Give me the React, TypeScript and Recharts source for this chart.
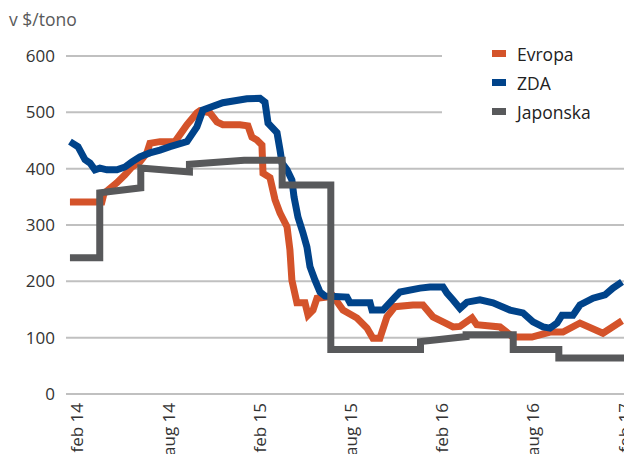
import React from "react";
import { LineChart, Line, XAxis, YAxis, CartesianGrid, Legend } from "recharts";

// months counted from feb 2014 (0 = feb 14)
const tickMonths = [0, 6, 12, 18, 24, 30, 36];
const tickLabels = ["feb 14", "aug 14", "feb 15", "aug 15", "feb 16", "aug 16", "feb 17"];
const yTicks = [0, 100, 200, 300, 400, 500, 600];

const evropa: [number, number][] = [
  [-0.46, 341], [1.64, 341], [1.78, 356], [2.63, 375], [3.16, 389], [3.62, 403],
  [4.14, 412], [4.6, 428], [4.8, 445], [5.46, 448], [6.45, 448], [7.24, 478],
  [7.89, 499], [8.09, 503], [8.75, 499], [9.21, 483], [9.6, 478], [10.72, 478],
  [11.25, 476], [11.51, 456], [11.84, 451], [12.17, 442], [12.24, 392], [12.7, 384],
  [13.03, 345], [13.36, 321], [13.82, 297], [14.01, 256], [14.14, 202], [14.47, 162],
  [15.0, 162], [15.2, 140], [15.53, 149], [15.79, 170], [16.45, 172], [16.84, 174],
  [17.5, 149], [18.42, 135], [19.08, 117], [19.47, 99], [19.93, 99], [20.39, 137],
  [20.92, 155], [22.1, 158], [22.76, 158], [23.42, 137], [24.08, 128], [24.74, 119],
  [25.2, 120], [25.99, 135], [26.3, 123], [27.83, 119], [28.68, 101], [29.93, 101],
  [31.12, 110], [31.97, 110], [33.09, 126], [34.6, 108], [35.86, 130],
];

const zda: [number, number][] = [
  [-0.46, 448], [0.07, 439], [0.53, 416], [0.86, 410], [1.18, 398], [1.51, 401],
  [1.97, 398], [2.63, 398], [3.16, 403], [3.62, 412], [4.14, 421], [4.8, 428],
  [5.46, 433], [6.12, 439], [7.24, 448], [7.89, 474], [8.29, 504], [9.6, 517],
  [11.18, 524], [12.04, 525], [12.37, 518], [12.57, 481], [13.16, 464], [13.36, 433],
  [13.49, 410], [13.82, 398], [14.14, 380], [14.28, 350], [14.54, 314], [14.87, 286],
  [15.13, 261], [15.33, 226], [15.66, 202], [15.99, 181], [16.32, 174], [17.76, 172],
  [17.96, 162], [19.28, 162], [19.41, 149], [20.13, 149], [20.92, 172], [21.25, 181],
  [22.57, 188], [23.22, 190], [24.08, 190], [24.34, 179], [24.74, 167], [25.2, 152],
  [25.66, 163], [26.51, 167], [27.37, 162], [28.49, 149], [29.34, 144], [30.0, 128],
  [30.66, 119], [31.12, 117], [31.58, 126], [31.91, 140], [32.63, 140], [33.09, 158],
  [33.95, 170], [34.74, 176], [35.26, 188], [35.86, 199],
];

const japonska: [number, number][] = [
  [-0.46, 242], [1.5, 242], [1.5, 357], [4.2, 366], [4.2, 401], [7.4, 394],
  [7.4, 408], [11.0, 415], [13.5, 415], [13.5, 371], [16.7, 371], [16.7, 79],
  [22.6, 79], [22.6, 93], [25.6, 102], [25.6, 105], [28.7, 105], [28.7, 79],
  [31.7, 79], [31.7, 64], [36.2, 64],
];

const series = [
  { name: "Evropa", color: "#D4532A", points: evropa },
  { name: "ZDA", color: "#00438A", points: zda },
  { name: "Japonska", color: "#58595B", points: japonska },
];

const font = "'Open Sans', sans-serif";

const XTick = (props: any) => {
  const { x, y, payload } = props;
  const i = tickMonths.indexOf(payload.value);
  return (
    <g transform={`translate(${x},${y})`}>
      <text
        transform="rotate(-90)"
        textAnchor="end"
        dominantBaseline="central"
        fontSize={17}
        fontFamily={font}
        fill="#333"
      >
        {tickLabels[i]}
      </text>
    </g>
  );
};

const LegendBox = () => (
  <div style={{ background: "#fff", width: "100%", height: "100%", paddingTop: 5 }}>
    {series.map((s) => (
      <div
        key={s.name}
        style={{ display: "flex", alignItems: "center", height: 29, fontFamily: font, fontSize: 17.5, color: "#222" }}
      >
        <span style={{ display: "inline-block", width: 14, height: 7, background: s.color, marginLeft: 50, marginRight: 11 }} />
        {s.name}
      </div>
    ))}
  </div>
);

export default function App() {
  return (
    <div style={{ position: "absolute", left: 0, top: 0, width: 624, height: 454, overflow: "hidden", background: "#fff" }}>
      <div style={{ position: "absolute", left: 9, top: 7, fontFamily: font, fontSize: 17.5, color: "#595959" }}>
        v $/tono
      </div>
      <LineChart width={650} height={454} margin={{ top: 56, right: 10, left: 0, bottom: 0 }}>
        <CartesianGrid vertical={false} stroke="#C0C0C0" strokeWidth={2} />
        <XAxis
          type="number"
          dataKey="m"
          domain={[-0.72, 37.04]}
          ticks={tickMonths}
          tick={<XTick />}
          tickLine={false}
          axisLine={false}
          tickSize={0}
          tickMargin={9}
          height={60}
          allowDataOverflow
        />
        <YAxis
          type="number"
          domain={[0, 600]}
          ticks={yTicks}
          width={66}
          tickLine={false}
          axisLine={false}
          tickSize={0}
          tickMargin={11}
          tick={{ fontSize: 17, fontFamily: font, fill: "#333" }}
        />
        <Legend
          layout="vertical"
          align="center"
          verticalAlign="middle"
          content={<LegendBox />}
          wrapperStyle={{ position: "absolute", left: 442, top: 34, width: 182, height: 94 }}
        />
        {series.map((s) => (
          <Line
            key={s.name}
            name={s.name}
            data={s.points.map(([m, v]) => ({ m, v }))}
            dataKey="v"
            type="linear"
            stroke={s.color}
            strokeWidth={7}
            dot={false}
            activeDot={false}
            isAnimationActive={false}
          />
        ))}
      </LineChart>
    </div>
  );
}
